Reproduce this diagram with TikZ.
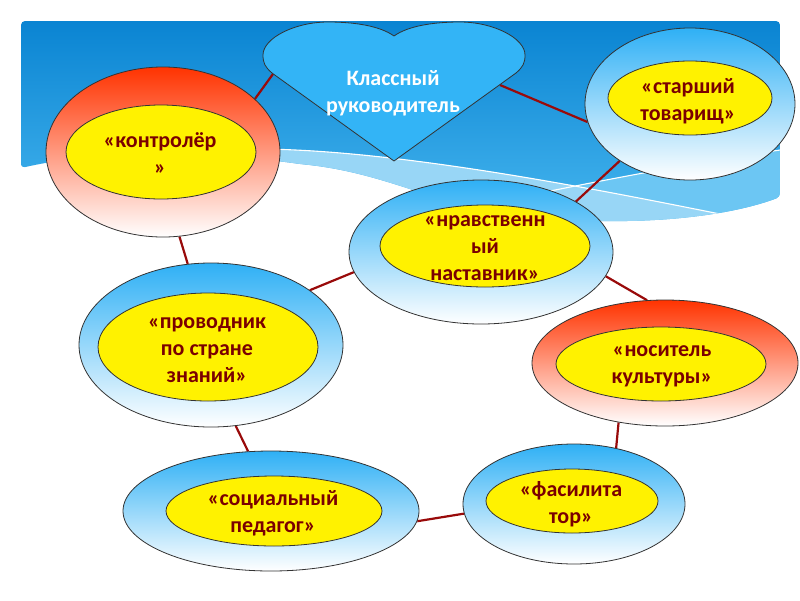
\documentclass[tikz,border=0pt]{standalone}
\usepackage{fontspec}
\setmainfont{Carlito}
\usetikzlibrary{shapes.geometric}
\definecolor{skytop}{HTML}{0A84D2}
\definecolor{skybot}{HTML}{46B6EF}
\definecolor{bandlight}{HTML}{98D6F6}
\definecolor{bandmid}{HTML}{6CC6F3}
\definecolor{heartblue}{HTML}{33B4F6}
\definecolor{ringblue}{HTML}{2FB0F5}
\definecolor{ringred}{HTML}{FF3300}
\definecolor{linkred}{HTML}{990A0A}
\definecolor{textred}{HTML}{7A0000}
\definecolor{outline}{HTML}{333333}
\pgfdeclarelayer{bg}
\pgfdeclarelayer{edges}
\pgfsetlayers{bg,edges,main}
\tikzset{
  ring/.style={ellipse, draw=outline, line width=0.8pt, inner sep=0pt, bottom color=white},
  ringb/.style={ring, top color=ringblue, bottom color=white},
  ringr/.style={ring, top color=ringred, bottom color=white},
  core/.style={ellipse, draw=outline, line width=0.8pt, fill=yellow, inner sep=0pt},
  label/.style={align=center, text=textred, inner sep=0pt, font=\bfseries\fontsize{22}{27}\selectfont},
  link/.style={draw=linkred, line width=2.2pt},
  waveline/.style={draw=white, line width=1.1pt}
}
\begin{document}
\begin{tikzpicture}[x=1pt,y=-1pt]
\useasboundingbox (0,0) rectangle (800,600);

% ---------- sky panel ----------
\begin{pgfonlayer}{bg}
\fill[white] (0,0) rectangle (800,600);
\begin{scope}
\clip[rounded corners=4pt] (21,168) -- (21,21) -- (780,21) -- (780,197)
  .. controls (740,212) and (680,222) .. (600,221)
  .. controls (520,220) and (460,205) .. (413,190)
  .. controls (370,176) and (340,168) .. (300,164)
  .. controls (200,150) and (100,150) .. (21,168) -- cycle;
\shade[top color=skytop, bottom color=skybot] (21,21) rectangle (780,226);
\fill[bandmid] (470,208) .. controls (560,188) and (680,165) .. (780,150)
  -- (780,240) -- (720,214) .. controls (640,198) and (560,184) .. (470,170) -- cycle;
\fill[bandlight] (260,149) .. controls (400,150) and (600,190) .. (720,214)
  -- (780,230) -- (780,260) -- (260,260) -- cycle;
\draw[waveline] (260,149) .. controls (400,150) and (600,190) .. (720,214);
\draw[waveline] (470,208) .. controls (560,188) and (680,165) .. (780,150);
\end{scope}
\end{pgfonlayer}

% ---------- heart ----------
\draw[fill=heartblue, draw=outline, line width=0.8pt]
  (394,36) .. controls (380,26) and (355,22) .. (328,22)
  .. controls (295,22) and (263,38) .. (263,55)
  .. controls (263,63) and (265,67) .. (272,73)
  -- (394,161) -- (516,73)
  .. controls (523,67) and (525,63) .. (525,55)
  .. controls (525,38) and (493,22) .. (460,22)
  .. controls (433,22) and (408,26) .. (394,36) -- cycle;
\coordinate (hl) at (273,74);
\coordinate (hr) at (500,85);
\node[label, text=white] (H) at (393,93) {Классный\\руководитель};

% ---------- outer rings ----------
\node[ringr, minimum width=234pt, minimum height=170pt] (K) at (163,152) {};
\node[ringb, minimum width=210pt, minimum height=152pt] (S) at (690,104) {};
\node[ringb, minimum width=264pt, minimum height=144pt] (N) at (481,252) {};
\node[ringb, minimum width=264pt, minimum height=164pt] (P) at (211,345) {};
\node[ringr, minimum width=266pt, minimum height=126pt] (C) at (665,363) {};
\node[ringb, minimum width=296pt, minimum height=120pt] (SP) at (271,511) {};
\node[ringb, minimum width=222pt, minimum height=120pt] (F) at (574,504) {};

% ---------- yellow cores ----------
\node[core, minimum width=190pt, minimum height=94pt] (Ki) at (161,152) {};
\node[core, minimum width=164pt, minimum height=74pt] (Si) at (690,98) {};
\node[core, minimum width=210pt, minimum height=82pt] (Ni) at (485,246) {};
\node[core, minimum width=220pt, minimum height=108pt] (Pi) at (208,347) {};
\node[core, minimum width=210pt, minimum height=74pt] (Ci) at (661,364) {};
\node[core, minimum width=216pt, minimum height=70pt] (SPi) at (274,511) {};
\node[core, minimum width=172pt, minimum height=64pt] (Fi) at (572,501) {};

% ---------- texts ----------
\node[label] (Kt) at (160,154) {«контролёр\\»};
\node[label] (St) at (688,101) {«старший\\товарищ»};
\node[label] (Nt) at (485,248) {«нравственн\\ый\\наставник»};
\node[label] (Pt) at (207,350) {«проводник\\по стране\\знаний»};
\node[label] (Ct) at (662,366) {«носитель\\культуры»};
\node[label] (SPt) at (273,513) {«социальный\\педагог»};
\node[label] (Ft) at (571,504) {«фасилита\\тор»};

% ---------- connectors ----------
\begin{pgfonlayer}{edges}
\draw[link] (K.30.4) -- (hl);
\draw[link] (hr) -- (S.190.5);
\draw[link] (S.219.2) -- (N.28.9);
\draw[link] (K.281.3) -- (P.106.8);
\draw[link] (P.29.9) -- (N.189.9);
\draw[link] (N.349.7) -- (C.106.8);
\draw[link] (P.287.8) -- (SP.111.3);
\draw[link] (C.232.8) -- (F.53.5);
\draw[link] (SP.356.1) -- (F.185.2);
\end{pgfonlayer}
\end{tikzpicture}
\end{document}
